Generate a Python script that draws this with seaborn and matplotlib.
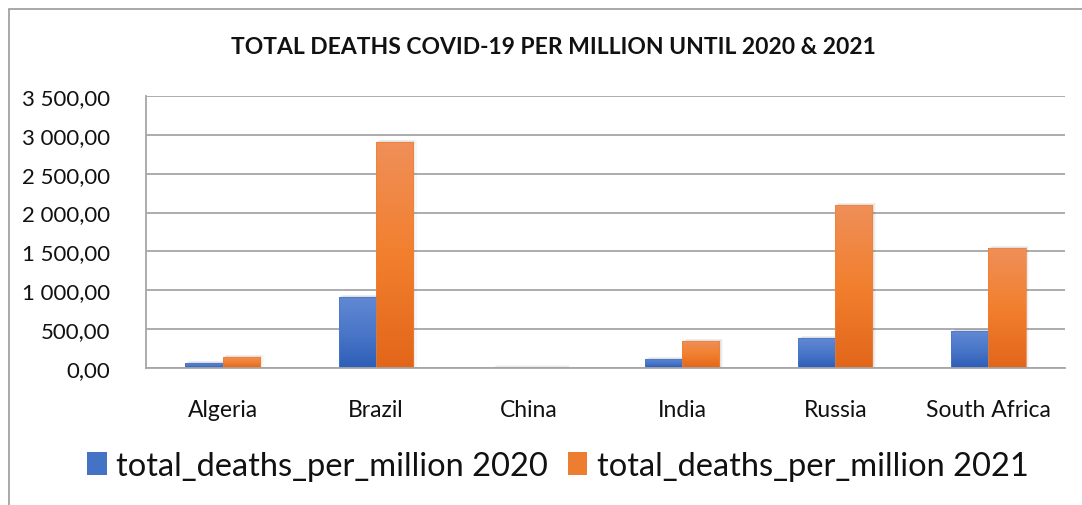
import numpy as np
import pandas as pd
import matplotlib
matplotlib.use("Agg")
import matplotlib.pyplot as plt
import seaborn as sns
from matplotlib.colors import LinearSegmentedColormap, to_hex
from matplotlib.patches import Rectangle
from matplotlib.ticker import FuncFormatter, MultipleLocator

countries = ["Algeria", "Brazil", "China", "India", "Russia", "South Africa"]
deaths_2020 = [64, 913, 3.4, 116, 386, 476]
deaths_2021 = [141, 2908, 3.2, 347, 2098, 1544]
series_names = ["total_deaths_per_million 2020", "total_deaths_per_million 2021"]
title = "TOTAL DEATHS COVID-19 PER MILLION UNTIL 2020 & 2021"

df = pd.DataFrame({
    "country": countries * 2,
    "value": deaths_2020 + deaths_2021,
    "series": [series_names[0]] * len(countries) + [series_names[1]] * len(countries),
})

sns.set_theme(style="white")
plt.rcParams["font.family"] = ["Lato", "DejaVu Sans"]

blue = "#4472c4"
orange = "#ed7d31"
grads = {
    blue: LinearSegmentedColormap.from_list("b", ["#2D5DB7", "#4A77C9", "#6188D3"]),
    orange: LinearSegmentedColormap.from_list("o", ["#E2661A", "#F27F2E", "#EF8F59"]),
}

fig = plt.figure(figsize=(10.82, 5.06), dpi=100)
ax = fig.add_axes([146 / 1082, 1 - 369 / 506, (1065 - 146) / 1082, (369 - 97) / 506])

sns.barplot(data=df, x="country", y="value", hue="series", palette=[blue, orange],
            width=0.485, ax=ax, legend=True, saturation=1, linewidth=0)

ax.set_xlim(-0.5, len(countries) - 0.5)
ax.set_ylim(0, 3500)

# Vertical gradient fill and a soft drop shadow on every bar
grad = np.linspace(0, 1, 256).reshape(-1, 1)
for patch in list(ax.patches):
    if patch.get_height() <= 0 or patch.get_width() == 0:
        continue
    fc = to_hex(patch.get_facecolor())
    cmap = grads.get(fc)
    if cmap is None:
        continue
    x0, y0 = patch.get_x(), patch.get_y()
    w, h = patch.get_width(), patch.get_height()
    for k, a in enumerate([0.05, 0.04, 0.03]):
        dx = w * 0.035 * (k + 1)
        ax.add_patch(Rectangle((x0 + dx, y0), w, h + 10 * (k + 1), facecolor="black",
                               alpha=a, edgecolor="none", zorder=1.5))
    im = ax.imshow(grad, extent=(x0, x0 + w, y0, y0 + h), origin="lower", cmap=cmap,
                   aspect="auto", zorder=2.1)
    im.set_clip_path(patch)
    patch.set_facecolor("none")
    patch.set_edgecolor(cmap(0.5))
    patch.set_linewidth(0.5)
    patch.set_zorder(2.2)

ax.set_xlim(-0.5, len(countries) - 0.5)
ax.set_ylim(0, 3500)
ax.yaxis.set_major_locator(MultipleLocator(500))
ax.yaxis.set_major_formatter(FuncFormatter(
    lambda v, p: f"{v:,.2f}".replace(",", " ").replace(".", ",")))
ax.grid(axis="y", color="#A6A6A6", linewidth=1.3)
ax.set_axisbelow(True)
for side in ["top", "right"]:
    ax.spines[side].set_visible(False)
for side in ["left", "bottom"]:
    ax.spines[side].set_color("#A6A6A6")
    ax.spines[side].set_linewidth(1.3)
ax.set_xlabel("")
ax.set_ylabel("")
ax.tick_params(axis="y", labelsize=16, length=0, pad=26, colors="#111111")
ax.tick_params(axis="x", labelsize=16.5, length=0, pad=22, colors="#111111")

fig.text(553 / 1082, 1 - 47 / 506, title, ha="center", va="center", fontsize=16.5,
         fontweight="bold", color="#111111")

handles, labels = ax.get_legend_handles_labels()
ax.get_legend().remove()
fig.legend(handles, labels, loc="center", bbox_to_anchor=(558 / 1082, 1 - 467 / 506),
           ncol=2, frameon=False, fontsize=23.5, handlelength=0.6, handleheight=0.7,
           handletextpad=0.3, columnspacing=0.6, labelcolor="#111111")

# chart frame
fig.add_artist(Rectangle((9 / 1082, -0.1), 1.2, 1 - 10 / 506 + 0.1, transform=fig.transFigure,
                         fill=False, edgecolor="#999999", linewidth=1.2))

fig.savefig("out.png", dpi=100, facecolor="white")
